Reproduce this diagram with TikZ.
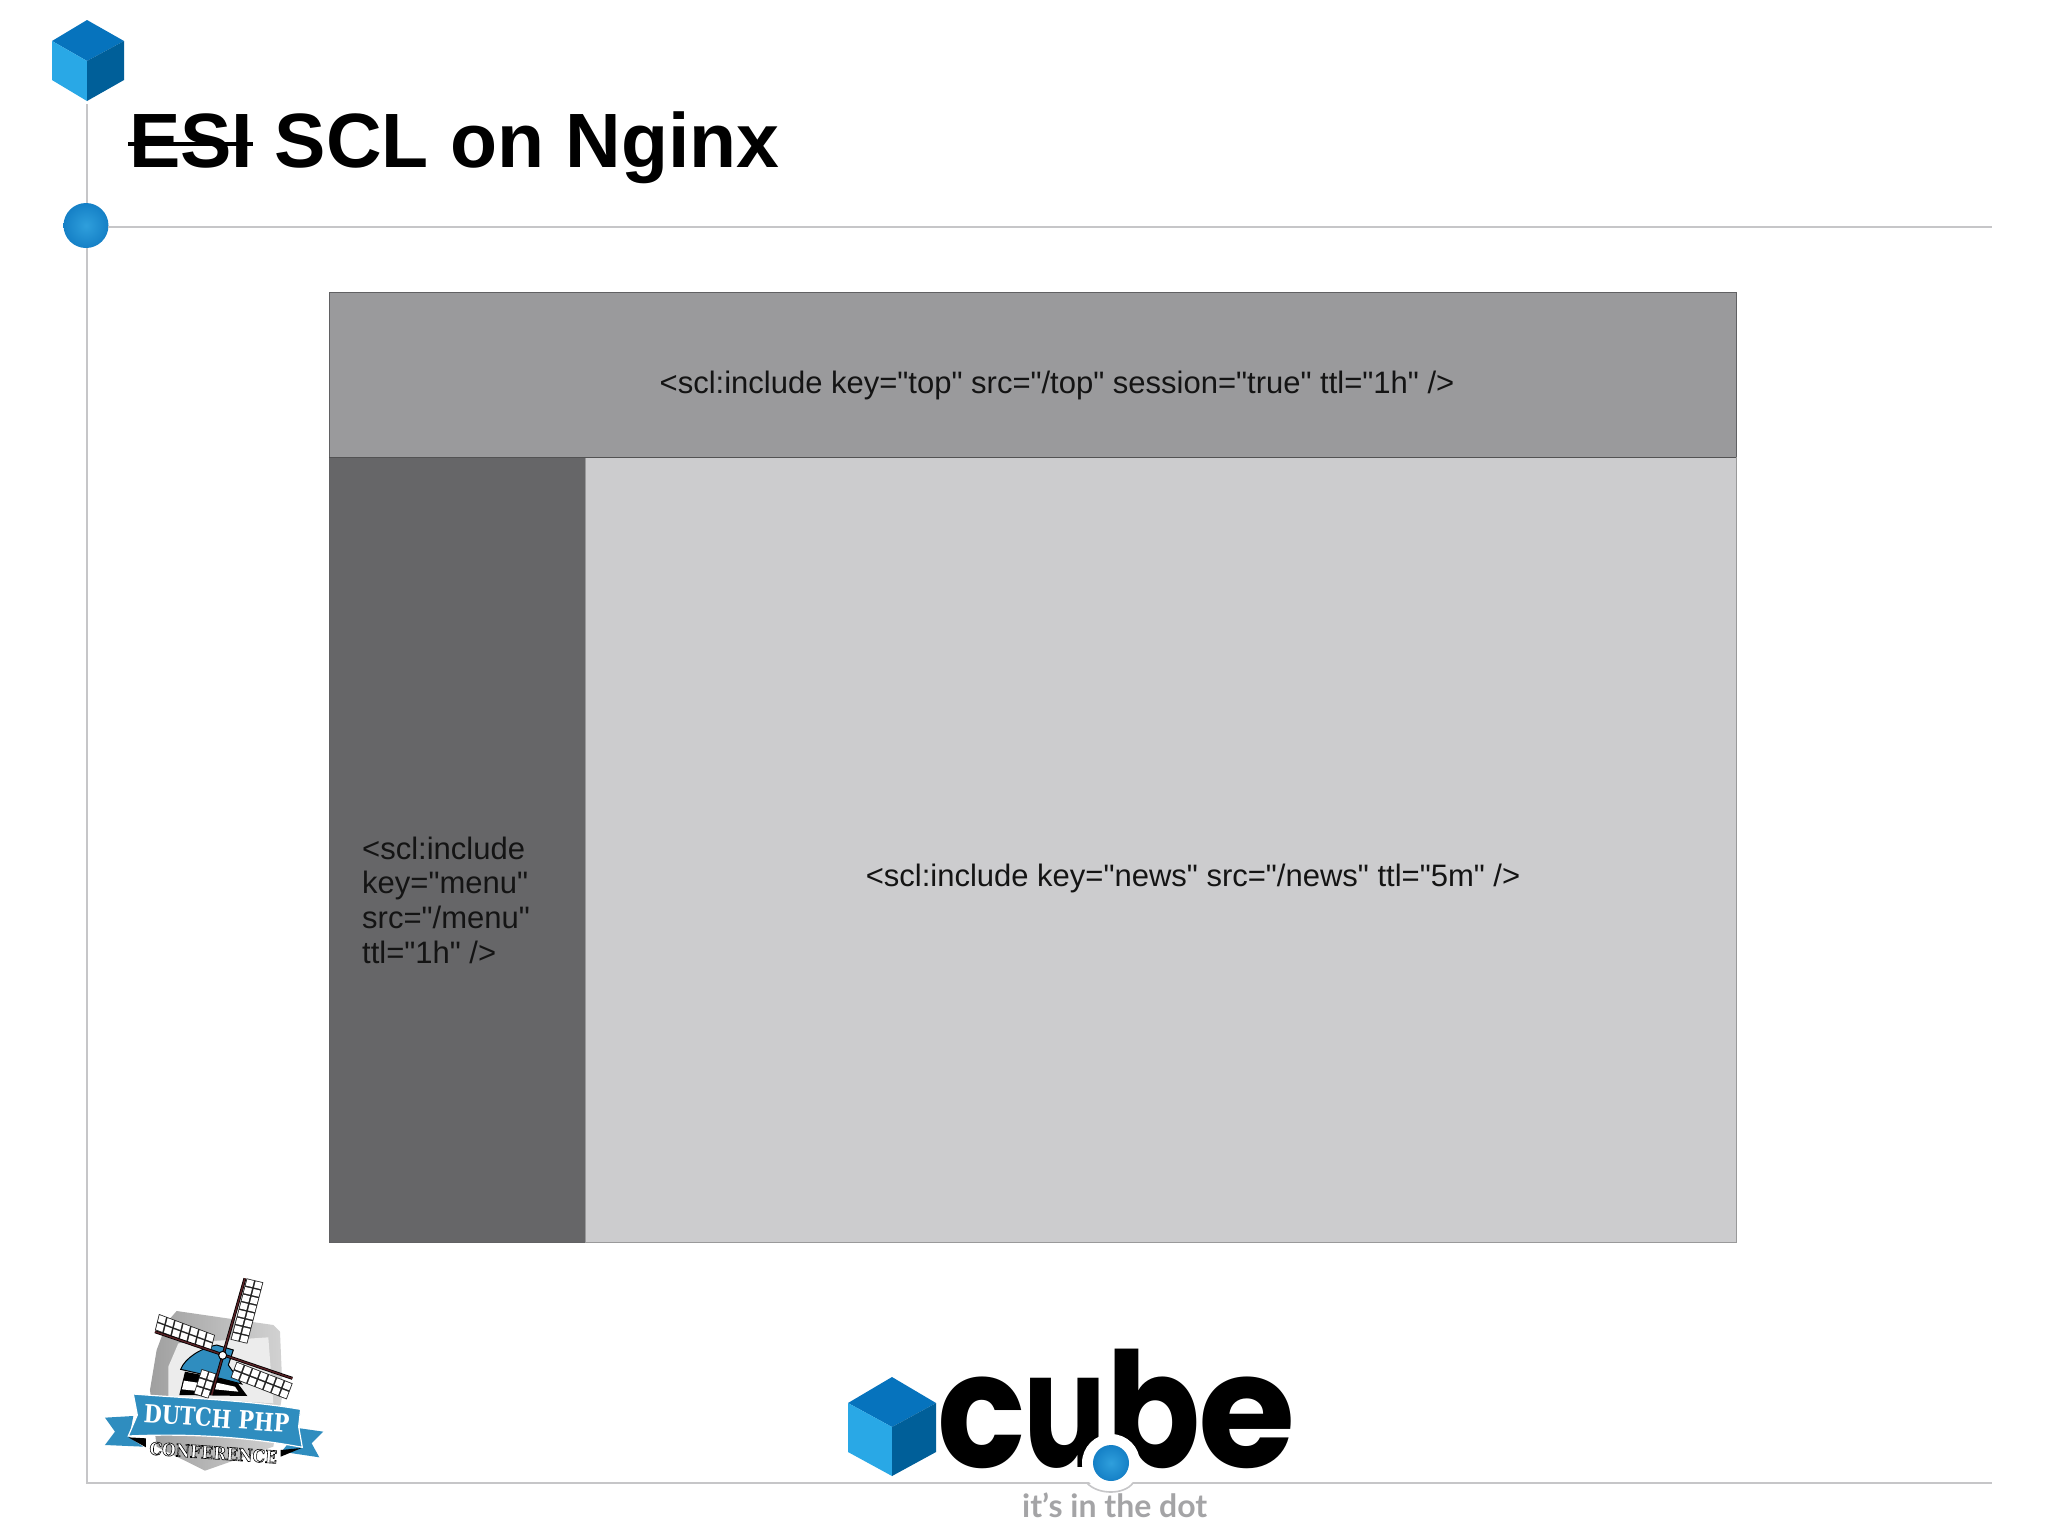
\documentclass[tikz,border=0pt]{standalone}
\usepackage{fontspec}
\setmainfont{Liberation Sans}
\newfontfamily\inclfont[Ligatures=Common]{Liberation Sans}
\newfontfamily\logofont{Poppins}
\newfontfamily\tagfont{Lato}
\newfontfamily\slabfont{DejaVu Serif}
\definecolor{ruleGray}{HTML}{C6C6C8}
\definecolor{topGray}{HTML}{9A9A9C}
\definecolor{menuGray}{HTML}{666668}
\definecolor{newsGray}{HTML}{CCCCCE}
\definecolor{edgeGray}{HTML}{616163}
\definecolor{cubeTop}{HTML}{0673BD}
\definecolor{cubeLeft}{HTML}{29A8E6}
\definecolor{cubeRight}{HTML}{005F99}
\definecolor{dotBlue}{HTML}{1580C6}
\definecolor{dotLight}{HTML}{2F9FDC}
\definecolor{ribbonBlue}{HTML}{2F8DBF}
\definecolor{sparBrown}{HTML}{5A2226}
\definecolor{tagGray}{HTML}{A4A4A6}
\tikzset{
  ruleline/.style={draw=ruleGray, line width=1.6pt},
  panel/.style={draw=edgeGray, line width=0.8pt},
  incl/.style={inner sep=0pt, text=black!92, font=\inclfont\fontsize{31}{34.6}\selectfont},
  bluedot/.style={circle, inner sep=0pt, shade, inner color=dotLight, outer color=dotBlue}
}
% one sail of the mill: origin, along vector, across vector, cells
\newcommand{\millsail}[7]{
  \begin{scope}[shift={(#1,#2)}, x={({#3/3*1pt},{-#4/3*1pt})}, y={({#5/3*1pt},{-#6/3*1pt})}]
    \fill[black!85] (0,0) -- (#7,0) -- (#7,2) -- (0,2) -- cycle;
    \foreach \i in {1,...,#7}
      \foreach \j in {1,2}
        \fill[white] ({\i-.9},{\j-.9}) -- ({\i-.1},{\j-.9}) -- ({\i-.1},{\j-.1}) -- ({\i-.9},{\j-.1}) -- cycle;
  \end{scope}
}
\begin{document}
\begin{tikzpicture}[x=1pt,y=-1pt]
  \useasboundingbox (0,0) rectangle (2048,1535);
  \fill[white] (0,0) rectangle (2048,1535);

  % Slide corner cube
  \fill[cubeTop] (87,20) -- (124,41) -- (87,61) -- (52,41) -- cycle;
  \fill[cubeLeft] (52,41) -- (87,61) -- (87,101) -- (52,80) -- cycle;
  \fill[cubeRight] (124,41) -- (87,61) -- (87,101) -- (124,80) -- cycle;

  % Frame lines
  \node[bluedot, minimum size=45pt] (dot) at (86,225.5) {};
  \coordinate (cubetip) at (87,104);
  \coordinate (frameleft) at (87,1483);
  \coordinate (frameright) at (1992,1483);
  \coordinate (ruleright) at (1992,227);
  \draw[ruleline] (cubetip) -- (87,203);
  \draw[ruleline] (87,248) -- (frameleft) -- (frameright);
  \draw[ruleline] (108,227) -- (ruleright);

  % Title
  \node[anchor=base west, inner sep=0pt, font=\fontsize{77}{80}\selectfont\bfseries] (title) at (129,167) {ESI SCL on Nginx};
  \draw[line width=3.5pt] (128,144) -- (253,144);

  % Page panels
  \draw[panel, fill=topGray] (329,292) rectangle (1736,457);
  \draw[panel, fill=menuGray] (329,457) rectangle (585,1242);
  \draw[panel, fill=newsGray, draw=newsGray!75!black] (585,457) rectangle (1736,1242);
  \draw[menuGray!80!black, line width=0.8pt] (329,457) -- (1736,457);

  \node[incl] (toptext) at (1057,385) {<scl:include key="top" src="/top" session="true" ttl="1h" />};
  \node[incl] (newstext) at (1193,878) {<scl:include key="news" src="/news" ttl="5m" />};
  \node[incl, anchor=base west, align=left] (menutext) at (362,963) {<scl:include\\key="menu"\\src="/menu"\\ttl="1h" />};

  % Conference badge
  \begin{scope}[shift={(60,1250)}, x=0.3333pt, y=-0.3333pt]
    \shade[left color=gray!75, right color=gray!35] (350,183) -- (640,225) -- (660,245) -- (668,430) -- (640,590) -- (435,662) -- (290,590) -- (270,420) -- (290,300) -- (322,215) -- cycle;
    \fill[gray!15] (355,280) -- (625,262) -- (640,460) -- (325,440) -- (325,350) -- cycle;
    \fill[black] (358,435) -- (375,365) -- (530,395) -- (562,438) -- cycle;
    \fill[white] (372,392) -- (440,402) -- (432,425) -- (366,418) -- cycle;
    \fill[white] (470,398) -- (525,410) -- (535,425) -- (465,418) -- cycle;
    \filldraw[fill=ribbonBlue, draw=black, line width=1pt] (362,358) .. controls (375,325) and (420,295) .. (470,285) -- (520,300) -- (505,345) -- (545,402) -- (480,385) -- cycle;
    \millsail{560}{85}{-6}{23}{25}{6}{8}
    \millsail{297}{192}{24}{9}{-6}{24}{7}
    \millsail{530}{335}{24}{9.3}{-9}{24}{7}
    \millsail{425}{357}{-8}{25}{22}{7}{3}
    \draw[black, line width=3pt] (555,85) -- (455,435);
    \draw[sparBrown, line width=1.4pt] (555,85) -- (455,435);
    \draw[black, line width=3pt] (285,245) -- (697,385);
    \draw[sparBrown, line width=1.4pt] (285,245) -- (697,385);
    \filldraw[fill=white, draw=black, line width=1pt] (488,316) circle (12);
    \fill[ribbonBlue] (135,503) -- (220,498) -- (208,562) -- (250,590) -- (135,585) -- (165,545) -- cycle;
    \fill[ribbonBlue] (720,535) -- (790,545) -- (755,580) -- (778,622) -- (665,605) -- cycle;
    \fill[black] (205,562) -- (258,565) -- (258,592) -- cycle;
    \fill[black] (725,594) -- (662,600) -- (662,620) -- cycle;
    \filldraw[fill=ribbonBlue, draw=white, line width=1.2pt] (220,432) .. controls (380,445) and (560,450) .. (722,478) -- (716,530) -- (727,592) .. controls (560,560) and (380,550) .. (205,558) -- (232,495) -- cycle;
    \node[rotate=-4, xscale=0.83, inner sep=0pt, text=white, font=\slabfont\bfseries\fontsize{25}{25}\selectfont] (dutchtext) at (470,505) {DUTCH PHP};
    \node[rotate=-4, xscale=0.9, inner sep=0pt, font=\slabfont\bfseries\fontsize{17.5}{17.5}\selectfont] (conftext) at (460,608) {\special{pdf:code q 2 Tr 0.6 w 0 0 0 RG 1 1 1 rg}CONFERENCE\special{pdf:code Q}};
  \end{scope}

  % Company logo
  \fill[cubeTop] (892,1377) -- (936,1403) -- (892,1427) -- (848,1403) -- cycle;
  \fill[cubeLeft] (848,1403) -- (892,1427) -- (892,1476) -- (848,1452) -- cycle;
  \fill[cubeRight] (936,1403) -- (892,1427) -- (892,1476) -- (936,1452) -- cycle;
  \node[anchor=base west, inner sep=0pt, font=\logofont\bfseries\fontsize{160}{160}\selectfont] (cubetext) at (937,1467) {\scalebox{.914}[1]{c}\kern-2pt\scalebox{.77}[1]{u}\scalebox{.867}[1]{b}\kern-2pt\scalebox{.985}[1]{e}};
  \draw[ruleline] (frameleft) -- (frameright);
  \fill[white] (1111,1463) circle (29);
  \fill[white] (1087,1484) .. controls (1098,1496) and (1124,1496) .. (1133,1484) -- cycle;
  \draw[ruleline] (1087,1483) .. controls (1098,1495) and (1124,1495) .. (1133,1483);
  \node[bluedot, minimum size=36pt] (cubedot) at (1111,1463) {};
  \node[anchor=base west, inner sep=0pt, text=tagGray, font=\tagfont\bfseries\fontsize{32}{32}\selectfont] (tagtext) at (1022,1517) {it’s in the dot};
\end{tikzpicture}
\end{document}
